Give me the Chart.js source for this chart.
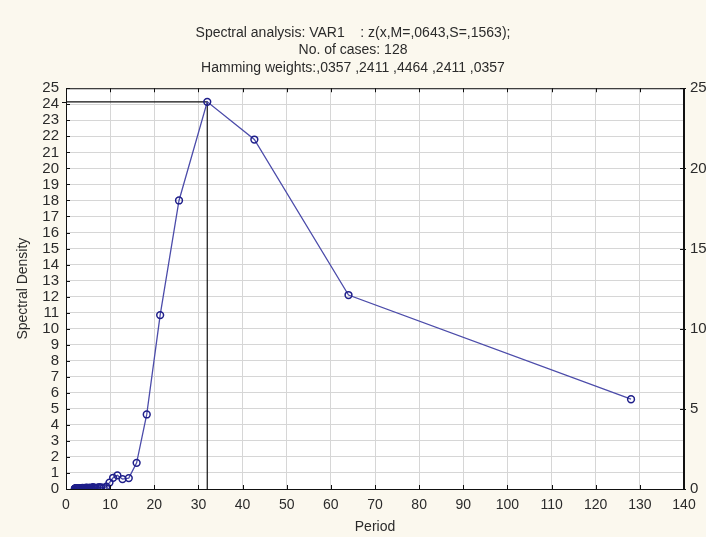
<!DOCTYPE html>
<html>
<head>
<meta charset="utf-8">
<script src="https://cdn.jsdelivr.net/npm/chart.js@4.4.0/dist/chart.umd.min.js"></script>
<style>
  html, body { margin: 0; padding: 0; background: #fbf8ee; }
  #wrap { width: 706px; height: 537px; }
</style>
</head>
<body>
<div id="wrap"><canvas id="spectrumChart" width="706" height="537"></canvas></div>
<script>
// Spectral analysis data (period = 128 / k)
const periods = [128, 64, 42.67, 32, 25.6, 21.33, 18.29, 16, 14.22, 12.8,
    11.64, 10.67, 9.85, 9.14, 8.53, 8, 7.53, 7.11, 6.74, 6.4,
    6.1, 5.82, 5.57, 5.33, 5.12, 4.92, 4.74, 4.57, 4.41, 4.27,
    4.13, 4, 3.88, 3.76, 3.66, 3.56, 3.46, 3.37, 3.28, 3.2,
    3.12, 3.05, 2.98, 2.91, 2.84, 2.78, 2.72, 2.67, 2.61, 2.56,
    2.51, 2.46, 2.42, 2.37, 2.33, 2.29, 2.25, 2.21, 2.17, 2.13,
    2.1, 2.06, 2.03, 2];
const density = [5.6, 12.1, 21.8, 24.15, 18.0, 10.85, 4.65, 1.63, 0.68, 0.62,
    0.85, 0.7, 0.4, 0.15, 0.07, 0.1, 0.12, 0.08, 0.06, 0.09,
    0.11, 0.07, 0.05, 0.08, 0.06, 0.04, 0.07, 0.09, 0.06, 0.05,
    0.04, 0.06, 0.05, 0.07, 0.04, 0.03, 0.05, 0.06, 0.04, 0.03,
    0.04, 0.05, 0.03, 0.04, 0.02, 0.03, 0.04, 0.03, 0.02, 0.03,
    0.04, 0.02, 0.03, 0.02, 0.03, 0.02, 0.02, 0.03, 0.02, 0.01,
    0.02, 0.02, 0.01, 0.02];
const titleLines = [
    'Spectral analysis: VAR1    : z(x,M=,0643,S=,1563);',
    'No. of cases: 128',
    'Hamming weights:,0357 ,2411 ,4464 ,2411 ,0357'
];
const xTicks = [0, 10, 20, 30, 40, 50, 60, 70, 80, 90, 100, 110, 120, 130, 140];
const yTicks = [0, 1, 2, 3, 4, 5, 6, 7, 8, 9, 10, 11, 12, 13, 14, 15, 16, 17, 18, 19, 20, 21, 22, 23, 24, 25];
const y2Ticks = [0, 5, 10, 15, 20, 25];

const FONT = "'Liberation Sans', Arial, sans-serif";
const TEXT = '#2b2b2b';
const GRID = '#d6d6d6';

// peak marker lines
let peakIdx = 0;
density.forEach((v, i) => { if (v > density[peakIdx]) peakIdx = i; });
const peakX = periods[peakIdx];
const peakY = density[peakIdx];

const framePlugin = {
    id: 'frame',
    beforeDraw(chart) {
        const { ctx, chartArea: a } = chart;
        ctx.save();
        ctx.fillStyle = '#fbf8ee';
        ctx.fillRect(0, 0, chart.width, chart.height);
        ctx.fillStyle = '#ffffff';
        ctx.fillRect(a.left, a.top, a.right - a.left, a.bottom - a.top);
        ctx.restore();
    },
    afterDraw(chart) {
        const { ctx, chartArea: a, scales } = chart;
        ctx.save();
        ctx.strokeStyle = '#111';
        ctx.lineWidth = 1;
        ctx.strokeRect(a.left + 0.5, a.top + 0.5, a.right - a.left - 1, a.bottom - a.top);
        ctx.beginPath();
        yTicks.forEach(v => {
            const y = Math.round(scales.y.getPixelForValue(v)) + 0.5;
            ctx.moveTo(a.left, y); ctx.lineTo(a.left + 4, y);
        });
        y2Ticks.forEach(v => {
            const y = Math.round(scales.y2.getPixelForValue(v)) + 0.5;
            ctx.moveTo(a.right - 4, y); ctx.lineTo(a.right + 2, y);
        });
        xTicks.forEach(v => {
            const x = Math.round(scales.x.getPixelForValue(v)) + 0.5;
            ctx.moveTo(x, a.bottom); ctx.lineTo(x, a.bottom - 4);
            ctx.moveTo(x, a.top); ctx.lineTo(x, a.top + 4);
        });
        // peak line reaches a little past the left border
        const py = Math.round(scales.y.getPixelForValue(peakY)) + 0.5;
        ctx.moveTo(a.left - 4, py); ctx.lineTo(a.left, py);
        ctx.stroke();
        ctx.restore();
    }
};

const ctx = document.getElementById('spectrumChart').getContext('2d');

new Chart(ctx, {
    type: 'scatter',
    data: {
        datasets: [{
            label: 'Spectral Density',
            data: periods.map((p, i) => ({ x: p, y: density[i] })),
            showLine: true,
            borderColor: '#4c4caa',
            borderWidth: 1.3,
            pointRadius: 3.4,
            pointBorderWidth: 1.5,
            pointBorderColor: '#1f1f8a',
            pointBackgroundColor: 'rgba(255,255,255,0)',
            order: 1
        }, {
            label: 'peak',
            data: [{ x: 0, y: peakY }, { x: peakX, y: peakY }, { x: peakX, y: 0 }],
            showLine: true,
            borderColor: '#111',
            borderWidth: 1.2,
            pointRadius: 0,
            order: 2
        }]
    },
    options: {
        responsive: false,
        animation: false,
        layout: { padding: 0 },
        plugins: {
            legend: { display: false },
            tooltip: { enabled: false },
            title: {
                display: true,
                text: titleLines,
                color: TEXT,
                font: { family: FONT, size: 14, weight: 'normal', lineHeight: 1.22 },
                padding: { top: 25, bottom: 12 }
            }
        },
        scales: {
            x: {
                type: 'linear',
                min: 0,
                max: 140,
                afterBuildTicks: s => { s.ticks = xTicks.map(v => ({ value: v })); },
                afterFit: s => { s.height = 48; },
                ticks: { color: TEXT, font: { family: FONT, size: 14 }, padding: 8, maxRotation: 0 },
                grid: { color: GRID, drawTicks: false },
                border: { color: '#111' },
                title: {
                    display: true, text: 'Period', color: TEXT,
                    font: { family: FONT, size: 14 }, padding: { top: 2, bottom: 1 }
                }
            },
            y: {
                position: 'left',
                min: 0,
                max: 25,
                afterBuildTicks: s => { s.ticks = yTicks.map(v => ({ value: v })); },
                afterFit: s => { s.width = 66; },
                ticks: { color: TEXT, font: { family: FONT, size: 15, lineHeight: 1 }, padding: 7, autoSkip: false },
                grid: { color: GRID, drawTicks: false },
                border: { color: '#111' },
                title: {
                    display: true, text: 'Spectral Density', color: TEXT,
                    font: { family: FONT, size: 14 }, padding: { top: 15, bottom: 0 }
                }
            },
            y2: {
                position: 'right',
                min: 0,
                max: 25,
                afterBuildTicks: s => { s.ticks = y2Ticks.map(v => ({ value: v })); },
                afterFit: s => { s.width = 22; },
                ticks: { color: TEXT, font: { family: FONT, size: 15 }, padding: 6 },
                grid: { drawOnChartArea: false, drawTicks: false },
                border: { color: '#111' }
            }
        }
    },
    plugins: [framePlugin]
});
</script>
</body>
</html>
